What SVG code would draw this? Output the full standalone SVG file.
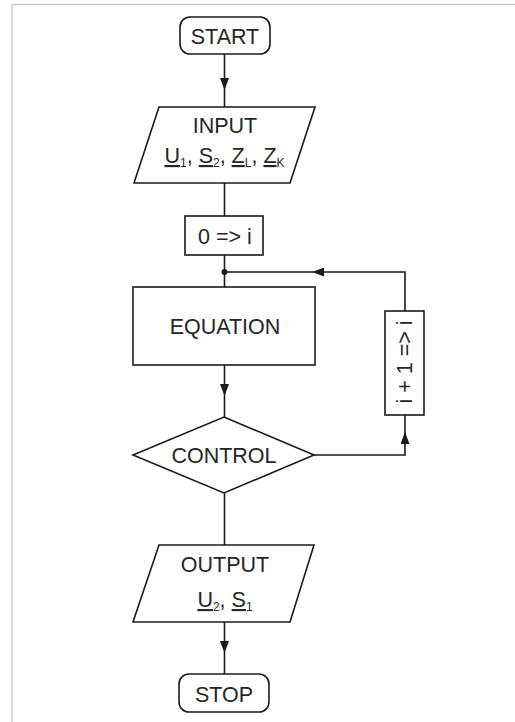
<svg xmlns="http://www.w3.org/2000/svg" width="515" height="722" viewBox="0 0 515 722">
<style>
.frame{stroke:#cccccc;stroke-width:1.5;fill:none}
.shape{fill:#ffffff;stroke:#1a1a1a;stroke-width:1.6}
.conn{fill:none;stroke:#1a1a1a;stroke-width:1.6}
.lbl{font-family:"Liberation Sans",Arial,sans-serif;font-size:21.5px;fill:#262626;text-anchor:middle}
.sub{font-size:12px}
.ul{text-decoration:underline}
</style>
<defs>
<marker id="arr" viewBox="0 0 12 9" refX="12" refY="4.5" markerWidth="12" markerHeight="9" markerUnits="userSpaceOnUse" orient="auto">
<path d="M0,0 L12,4.5 L0,9 z" fill="#1a1a1a"/>
</marker>
</defs>
<rect width="515" height="722" fill="#ffffff"/>
<path class="frame" d="M12,722 V4.5 H515"/>
<g id="connectors">
<path class="conn" d="M224.5,54 V90" marker-end="url(#arr)"/>
<path class="conn" d="M224.5,90 V107"/>
<path class="conn" d="M224.5,183 V216"/>
<path class="conn" d="M224.5,255 V287"/>
<path class="conn" d="M405,311 V272 H312" marker-end="url(#arr)"/>
<path class="conn" d="M312,272 H224.5"/>
<circle cx="224.5" cy="272" r="3" fill="#1a1a1a"/>
<path class="conn" d="M224.5,365 V396" marker-end="url(#arr)"/>
<path class="conn" d="M224.5,396 V417"/>
<path class="conn" d="M314,455 H405 V432" marker-end="url(#arr)"/>
<path class="conn" d="M405,432 V415"/>
<path class="conn" d="M224.5,493 V545"/>
<path class="conn" d="M224.5,622 V653" marker-end="url(#arr)"/>
<path class="conn" d="M224.5,653 V674"/>
</g>
<g id="start">
<rect class="shape" x="180" y="17" width="90" height="37" rx="10"/>
<text class="lbl" x="225" y="43.5">START</text>
</g>
<g id="input">
<polygon class="shape" points="159,107 315,107 290,183 134,183"/>
<text class="lbl" x="225" y="133">INPUT</text>
<text class="lbl" x="224.5" y="163"><tspan class="ul">U</tspan><tspan class="sub" dy="3.5">1</tspan><tspan dy="-3.5">, </tspan><tspan class="ul">S</tspan><tspan class="sub" dy="3.5">2</tspan><tspan dy="-3.5">, </tspan><tspan class="ul">Z</tspan><tspan class="sub" dy="3.5">L</tspan><tspan dy="-3.5">, </tspan><tspan class="ul">Z</tspan><tspan class="sub" dy="3.5">K</tspan></text>
</g>
<g id="init">
<rect class="shape" x="185" y="216" width="78" height="39"/>
<text class="lbl" x="225" y="244">0 =&gt; i</text>
</g>
<g id="equation">
<rect class="shape" x="133" y="287" width="182" height="78"/>
<text class="lbl" x="225" y="334">EQUATION</text>
</g>
<g id="control">
<polygon class="shape" points="224,417 314,455 224,493 133,455"/>
<text class="lbl" x="224" y="463">CONTROL</text>
</g>
<g id="increment">
<rect class="shape" x="385" y="311" width="39" height="104"/>
<text class="lbl" transform="translate(412,362) rotate(-90)">i + 1 =&gt; i</text>
</g>
<g id="output">
<polygon class="shape" points="159,545 314,545 290,622 133,622"/>
<text class="lbl" x="225" y="572">OUTPUT</text>
<text class="lbl" x="225" y="607"><tspan class="ul">U</tspan><tspan class="sub" dy="3.5">2</tspan><tspan dy="-3.5">, </tspan><tspan class="ul">S</tspan><tspan class="sub" dy="3.5">1</tspan></text>
</g>
<g id="stop">
<rect class="shape" x="179" y="674" width="90" height="38" rx="10"/>
<text class="lbl" x="224" y="702">STOP</text>
</g>
</svg>
